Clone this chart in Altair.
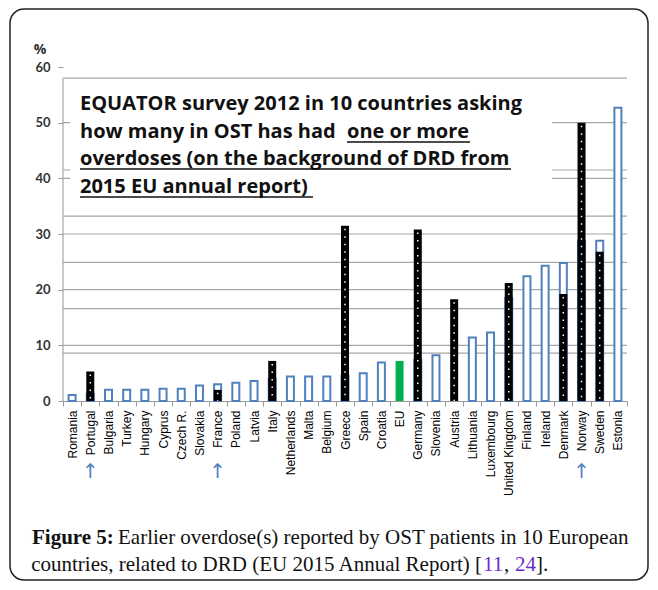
import altair as alt
import pandas as pd

# ---------------- data ----------------
countries = ["Romania", "Portugal", "Bulgaria", "Turkey", "Hungary", "Cyprus",
             "Czech R.", "Slovakia", "France", "Poland", "Latvia", "Italy",
             "Netherlands", "Malta", "Belgium", "Greece", "Spain", "Croatia",
             "EU", "Germany", "Slovenia", "Austria", "Lithuania", "Luxembourg",
             "United Kingdom", "Finland", "Ireland", "Denmark", "Norway",
             "Sweden", "Estonia"]
drd_values = [1.1, 1.3, 2.0, 2.0, 2.0, 2.2,
              2.2, 2.8, 3.0, 3.3, 3.6, 4.0,
              4.4, 4.4, 4.4, 4.6, 5.0, 6.9,
              7.2, 7.4, 8.2, None, 11.4, 12.3,
              18.5, 22.4, 24.3, 24.8, 28.8,
              28.8, 52.7]
equator_countries = ["Portugal", "France", "Italy", "Greece", "Germany",
                     "Austria", "United Kingdom", "Denmark", "Norway", "Sweden"]
equator_values = [5.3, 2.0, 7.2, 31.5, 30.8, 18.3, 21.2, 19.2, 50.0, 26.8]
arrow_countries = ["Portugal", "France", "Norway"]
y_tick_values = [0, 10, 20, 30, 40, 50, 60]
grid_values = [10, 20, 30, 40, 50, 8.6, 16.6, 24.9, 33.2, 41.5, 58.0]

title_lines = ["EQUATOR survey 2012 in 10 countries asking",
               "how many in OST has had",
               "one or more",
               "overdoses (on the background of DRD from",
               "2015 EU annual report)"]

# ---------------- tables ----------------
df = pd.DataFrame({"country": countries, "drd": drd_values})
blue_df = df[(df.country != "EU") & df.drd.notna()]
eu_df = df[df.country == "EU"]
eq_df = pd.DataFrame({"country": equator_countries, "v": equator_values})
arrow_df = pd.DataFrame({"country": arrow_countries})
grid_df = pd.DataFrame({"g": grid_values})
one = pd.DataFrame({"d": [0]})

W, H = 564, 334
BLUE = "#4F81BD"
xscale = alt.Scale(domain=countries, paddingInner=0, paddingOuter=0)
yscale = alt.Scale(domain=[0, 60], nice=False, zero=True)
xaxis = alt.Axis(title=None, labelAngle=-90, labelFont="Liberation Sans",
                 labelFontSize=12, labelColor="black", tickBand="extent",
                 tickColor="#999", tickSize=5, domainColor="#999",
                 labelPadding=4, labelOverlap=False, labelLimit=200)
yaxis = alt.Axis(title=None, values=y_tick_values, grid=False, domain=False,
                 labelFont="Lato", labelFontWeight="bold", labelFontSize=13,
                 labelColor="#333", tickColor="#999", tickSize=5,
                 labelPadding=8)


def X():
    return alt.X("country:N", scale=xscale, axis=xaxis)


def Y(field):
    return alt.Y(field, scale=yscale, axis=yaxis)


grid = alt.Chart(grid_df).mark_rule(color="#a6a6a6", strokeWidth=1.2).encode(
    x=alt.value(0), x2=alt.value(W), y=Y("g:Q"))

axis_line = alt.Chart(pd.DataFrame({"a": [0], "b": [58.0]})).mark_rule(
    color="#a6a6a6", strokeWidth=1.2).encode(
    x=alt.value(0), y=Y("a:Q"), y2="b:Q")

title_box = alt.Chart(one).mark_rect(fill="white").encode(
    x=alt.value(7), x2=alt.value(489), y=alt.value(15), y2=alt.value(143))

blue_bars = alt.Chart(blue_df).mark_bar(
    size=7, fill="white", stroke=BLUE, strokeWidth=2).encode(
    x=X(), y=Y("drd:Q"))

eu_bar = alt.Chart(eu_df).mark_bar(size=8, color="#00B050").encode(
    x=X(), y=Y("drd:Q"))

black_bars = alt.Chart(eq_df).mark_bar(size=8, color="black").encode(
    x=X(), y=Y("v:Q"))

dots = alt.Chart(eq_df).mark_rule(
    color="white", strokeWidth=1.5, strokeDash=[1.5, 6],
    strokeDashOffset=-3).encode(x=X(), y=Y("v:Q"), y2=alt.datum(0))

arrows = alt.Chart(arrow_df).mark_text(
    text="↑", font="DejaVu Sans", fontSize=20, color=BLUE,
    baseline="middle").encode(x=X(), y=alt.value(405))


def label(txt, x, y, align="left", font="Open Sans", size=20, weight="bold",
          color="#111"):
    return alt.Chart(one).mark_text(
        text=txt, align=align, baseline="alphabetic", font=font,
        fontSize=size, fontWeight=weight, color=color).encode(
        x=alt.value(x), y=alt.value(y))


def uline(x1, x2, y):
    return alt.Chart(one).mark_rule(color="#111", strokeWidth=1.5).encode(
        x=alt.value(x1), x2=alt.value(x2), y=alt.value(y))


title_layers = [
    label(title_lines[0], 17, 43),
    label(title_lines[1], 17, 71),
    label(title_lines[2], 284, 71),
    label(title_lines[3], 17, 98),
    label(title_lines[4], 17, 126),
    uline(284, 407, 75),
    uline(17, 448, 102),
    uline(17, 250, 130),
]

SERIF = "Liberation Serif"
PURPLE = "#6a2bc9"
FS = 21
L2 = 419
caption_layers = [
    label("Figure 5:", -31, 477, font=SERIF, size=FS),
    label("Earlier overdose(s) reported by OST patients in 10 European",
          55, 477, font=SERIF, size=FS, weight="normal"),
    label("countries, related to DRD (EU 2015 Annual Report) [", L2, 504,
          align="right", font=SERIF, size=FS, weight="normal"),
    label("11", L2 + 1, 504, font=SERIF, size=FS, weight="normal",
          color=PURPLE),
    label(",", L2 + 1 + 21, 504, font=SERIF, size=FS, weight="normal"),
    label("24", L2 + 1 + 32, 504, font=SERIF, size=FS, weight="normal",
          color=PURPLE),
    label("].", L2 + 1 + 53, 504, font=SERIF, size=FS, weight="normal"),
]

percent = label("%", -23, -13, align="center", size=14, color="#333")

border = alt.Chart(one).mark_rect(
    filled=False, stroke="#222", strokeWidth=1.5, cornerRadius=14).encode(
    x=alt.value(-53), x2=alt.value(585), y=alt.value(-58), y2=alt.value(513))

chart = alt.layer(
    grid, axis_line, title_box, blue_bars, eu_bar, black_bars, dots, arrows,
    *title_layers, *caption_layers, percent, border
).properties(
    width=W, height=H,
    autosize=alt.AutoSizeParams(type="none"),
    padding={"left": 55, "top": 59, "right": 23, "bottom": 181},
    background="white",
).configure_view(stroke=None)

chart.save("out.html", embed_options={"renderer": "svg", "actions": False})
